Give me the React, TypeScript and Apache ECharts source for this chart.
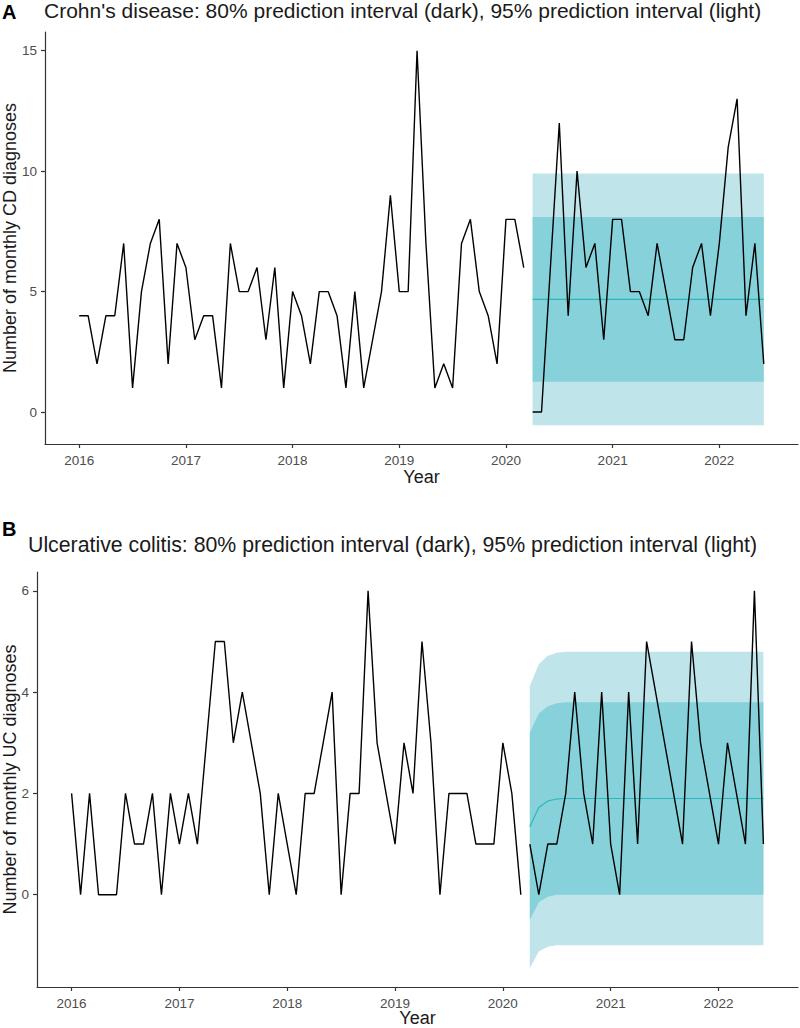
import React, { useEffect, useRef } from "react";
import * as echarts from "echarts";

// ---------- Data ----------
const yearTicks = [2016, 2017, 2018, 2019, 2020, 2021, 2022];
const cdTicks = [0, 5, 10, 15];
const ucTicks = [0, 2, 4, 6];

// Observed monthly counts Jan 2016 – Mar 2020
const cdHistory = [
  4, 4, 2, 4, 4, 7, 1, 5, 7, 8, 2, 7,
  6, 3, 4, 4, 1, 7, 5, 5, 6, 3, 6, 1,
  5, 4, 2, 5, 5, 4, 1, 5, 1, 3, 5, 9,
  5, 5, 15, 7, 1, 2, 1, 7, 8, 5, 4, 2,
  8, 8, 6,
];
// Observed monthly counts Apr 2020 – Jun 2022
const cdObserved = [
  0, 0, 6, 12, 4, 10, 6, 7, 3,
  8, 8, 5, 5, 4, 7, 5, 3, 3, 6, 7, 4,
  7, 11, 13, 4, 7, 2,
];
const cdMean = [4.68];
const cdLo80 = [1.26];
const cdHi80 = [8.1];
const cdLo95 = [-0.55];
const cdHi95 = [9.9];

const ucHistory = [
  2, 0, 2, 0, 0, 0, 2, 1, 1, 2, 0, 2,
  1, 2, 1, 3, 5, 5, 3, 4, 3, 2, 0, 2,
  1, 0, 2, 2, 3, 4, 0, 2, 2, 6, 3, 2,
  1, 3, 2, 5, 3, 0, 2, 2, 2, 1, 1, 1,
  3, 2, 0,
];
const ucObserved = [
  1, 0, 1, 1, 2, 4, 2, 1, 4,
  1, 0, 4, 1, 5, 4, 3, 2, 1, 5, 3, 2,
  1, 3, 2, 1, 6, 1,
];
const ucMean = [1.34, 1.72, 1.85, 1.89, 1.9];
const ucLo80 = [-0.5, -0.15, -0.04, 0.0, 0.0];
const ucHi80 = [3.2, 3.58, 3.72, 3.78, 3.8];
const ucLo95 = [-1.45, -1.12, -1.03, -1.0, -1.0];
const ucHi95 = [4.12, 4.55, 4.72, 4.78, 4.8];

// ---------- helpers ----------
function months(year: number, month: number, count: number): number[] {
  const out: number[] = [];
  for (let i = 0; i < count; i++) out.push(year + (month - 1 + i) / 12);
  return out;
}
// extend a band definition (last value held) over the forecast horizon
function hold(arr: number[], n: number): number[] {
  const out: number[] = [];
  for (let i = 0; i < n; i++) out.push(arr[Math.min(i, arr.length - 1)]);
  return out;
}

const histX = months(2016, 1, 51);
const fcX = months(2020, 4, 27);
const N = fcX.length;

const LIGHT = "#bfe5ea";
const DARK = "#86d1da";
const MEANC = "#2bb6be";
const FONT = "'Liberation Sans', Arial, Helvetica, sans-serif";
const AXC = "#333333";
const LABC = "#4d4d4d";
const TXT = "#1a1a1a";

const xMin = 2016 - (fcX[N - 1] - 2016) * 0.05;
const xMax = fcX[N - 1] + (fcX[N - 1] - 2016) * 0.05;

function band(gridIdx: number, lo: number[], hi: number[], fill: string) {
  return {
    type: "custom",
    xAxisIndex: gridIdx,
    yAxisIndex: gridIdx,
    silent: true,
    data: [[fcX[0], lo[0]]],
    renderItem: (_p: any, api: any) => {
      const pts: number[][] = [];
      for (let i = 0; i < N; i++) pts.push(api.coord([fcX[i], hi[i]]));
      for (let i = N - 1; i >= 0; i--) pts.push(api.coord([fcX[i], lo[i]]));
      return { type: "polygon", shape: { points: pts }, style: { fill } };
    },
  };
}

function lineSeries(gridIdx: number, xs: number[], ys: number[], color: string, width: number) {
  return {
    type: "line",
    xAxisIndex: gridIdx,
    yAxisIndex: gridIdx,
    data: xs.map((x, i) => [x, ys[i]]),
    showSymbol: false,
    symbol: "none",
    silent: true,
    lineStyle: { color, width },
  };
}

function xAxis(gridIdx: number, gap: number) {
  return {
    type: "value",
    gridIndex: gridIdx,
    min: xMin,
    max: xMax,
    name: "Year",
    nameLocation: "middle",
    nameGap: gap,
    nameMoveOverlap: false,
    nameTextStyle: { color: TXT, fontSize: 18, fontFamily: FONT },
    axisLine: { show: true, onZero: false, lineStyle: { color: AXC, width: 1.2 } },
    axisTick: { show: true, length: 4, customValues: yearTicks, lineStyle: { color: AXC, width: 1.2 } },
    axisLabel: {
      customValues: yearTicks,
      color: LABC,
      fontSize: 13.5,
      fontFamily: FONT,
      margin: 9,
      formatter: (v: number) => String(Math.round(v)),
    },
    splitLine: { show: false },
  };
}

function yAxis(gridIdx: number, min: number, max: number, ticks: number[], name: string, gap: number) {
  return {
    type: "value",
    gridIndex: gridIdx,
    min,
    max,
    name,
    nameLocation: "middle",
    nameGap: gap,
    nameMoveOverlap: false,
    nameTextStyle: { color: TXT, fontSize: 18, fontFamily: FONT },
    axisLine: { show: true, onZero: false, lineStyle: { color: AXC, width: 1.2 } },
    axisTick: { show: true, length: 4, customValues: ticks, lineStyle: { color: AXC, width: 1.2 } },
    axisLabel: { customValues: ticks, color: LABC, fontSize: 13.5, fontFamily: FONT, margin: 8 },
    splitLine: { show: false },
  };
}

export default function App() {
  const ref = useRef<HTMLDivElement>(null);
  useEffect(() => {
    if (!ref.current) return;
    const chart = echarts.init(ref.current, undefined, { renderer: "svg" });

    const cdRangeLo = Math.min(...cdLo95, ...cdHistory, ...cdObserved);
    const cdRangeHi = Math.max(...cdHi95, ...cdHistory, ...cdObserved);
    const ucRangeLo = Math.min(...ucLo95, ...ucHistory, ...ucObserved);
    const ucRangeHi = Math.max(...ucHi95, ...ucHistory, ...ucObserved);
    const cdPad = (cdRangeHi - cdRangeLo) * 0.05;
    const ucPad = (ucRangeHi - ucRangeLo) * 0.05;

    chart.setOption({
      animation: false,
      backgroundColor: "#ffffff",
      title: [
        { text: "A", left: 2, top: 2, padding: 0, textStyle: { fontSize: 20, fontWeight: "bold", color: "#000", fontFamily: FONT } },
        {
          text: "Crohn's disease: 80% prediction interval (dark), 95% prediction interval (light)",
          left: 44, top: 0, padding: 0,
          textStyle: { fontSize: 21, fontWeight: "normal", color: TXT, fontFamily: FONT },
        },
        { text: "B", left: 2, top: 519, padding: 0, textStyle: { fontSize: 20, fontWeight: "bold", color: "#000", fontFamily: FONT } },
        {
          text: "Ulcerative colitis: 80% prediction interval (dark), 95% prediction interval (light)",
          left: 28, top: 534, padding: 0,
          textStyle: { fontSize: 21.3, fontWeight: "normal", color: TXT, fontFamily: FONT },
        },
      ],
      grid: [
        { left: 45, top: 32, width: 753, height: 412, outerBoundsMode: "none", containLabel: false },
        { left: 37, top: 572, width: 761, height: 415, outerBoundsMode: "none", containLabel: false },
      ],
      xAxis: [xAxis(0, 24), xAxis(1, 22)],
      yAxis: [
        yAxis(0, cdRangeLo - cdPad, cdRangeHi + cdPad, cdTicks, "Number of monthly CD diagnoses", 26),
        yAxis(1, ucRangeLo - ucPad, ucRangeHi + ucPad, ucTicks, "Number of monthly UC diagnoses", 18),
      ],
      series: [
        band(0, hold(cdLo95, N), hold(cdHi95, N), LIGHT),
        band(0, hold(cdLo80, N), hold(cdHi80, N), DARK),
        lineSeries(0, fcX, hold(cdMean, N), MEANC, 1.2),
        lineSeries(0, histX, cdHistory, "#000", 1.4),
        lineSeries(0, fcX, cdObserved, "#000", 1.4),
        band(1, hold(ucLo95, N), hold(ucHi95, N), LIGHT),
        band(1, hold(ucLo80, N), hold(ucHi80, N), DARK),
        lineSeries(1, fcX, hold(ucMean, N), MEANC, 1.2),
        lineSeries(1, histX, ucHistory, "#000", 1.4),
        lineSeries(1, fcX, ucObserved, "#000", 1.4),
      ],
    });
    return () => chart.dispose();
  }, []);
  return <div ref={ref} style={{ width: 800, height: 1028, position: "absolute", left: 0, top: 0 }} />;
}
